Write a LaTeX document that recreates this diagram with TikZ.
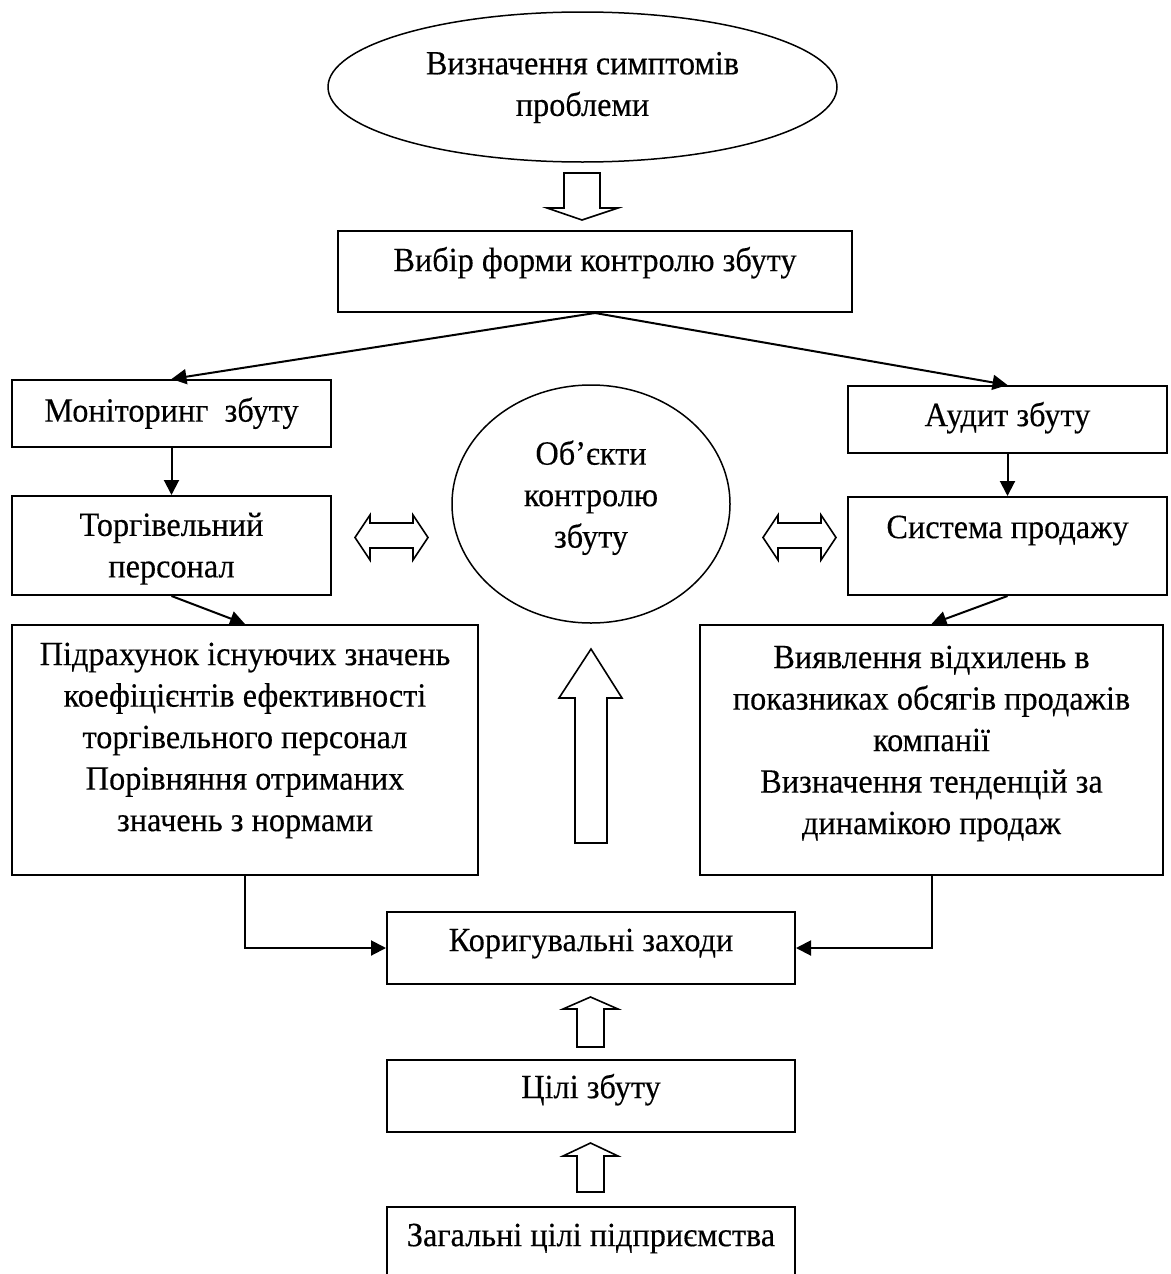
\documentclass[tikz,border=0pt]{standalone}
\usepackage{fontspec}
\setmainfont[FakeStretch=0.95,FakeBold=0.3]{Liberation Serif}
\usetikzlibrary{shapes.geometric,arrows.meta}
\newcommand\tx[2]{\raisebox{\dimexpr #1pt-0.25em\relax}[0pt][0pt]{\begin{tabular}{@{}c@{}}#2\end{tabular}}}
\tikzset{
  every node/.style={font=\fontsize{17pt}{20.75pt}\selectfont},
  box/.style={draw, line width=1pt, rectangle, inner sep=0pt},
  oval/.style={draw, line width=0.75pt, ellipse, inner sep=0pt},
  conn/.style={line width=1pt, -{Triangle[length=7.5pt,width=7.5pt]}},
  blk/.style={draw, line width=0.8pt, fill=white, line join=miter},
}
\begin{document}
\begin{tikzpicture}[x=0.5pt, y=-0.5pt]
\useasboundingbox (0,0) rectangle (1171,1274);
\clip (0,0) rectangle (1171,1274);

% nodes
\node[oval, minimum width=254.5pt, minimum height=75pt] (sympt) at (582.5,87)
  {\tx{0}{Визначення симптомів\\проблеми}};
\node[box, minimum width=257pt, minimum height=40.5pt] (vybir) at (595,271.5)
  {\tx{4.25}{Вибір форми контролю збуту}};
\node[box, minimum width=159.5pt, minimum height=33.5pt] (mon) at (171.5,413.5)
  {\tx{0}{Моніторинг\ \ збуту}};
\node[box, minimum width=159.5pt, minimum height=33.5pt] (audit) at (1007.5,419.5)
  {\tx{0.75}{Аудит збуту}};
\node[box, minimum width=159.5pt, minimum height=49.5pt] (torg) at (171.5,545.5)
  {\tx{-1.5}{Торгівельний\\персонал}};
\node[box, minimum width=159.5pt, minimum height=49pt] (sist) at (1007.5,546)
  {\tx{8}{Система продажу}};
\node[oval, minimum width=139pt, minimum height=119pt] (obj) at (591,504)
  {\tx{3}{Об’єкти\\контролю\\збуту}};
\node[box, minimum width=233pt, minimum height=125pt] (pid) at (245,750)
  {\tx{5}{Підрахунок існуючих значень\\коефіцієнтів ефективності\\торгівельного персонал\\Порівняння отриманих\\значень з нормами}};
\node[box, minimum width=231.5pt, minimum height=125pt] (viy) at (931.5,750)
  {\tx{3.5}{Виявлення відхилень в\\показниках обсягів продажів\\компанії\\Визначення тенденцій за\\динамікою продаж}};
\node[box, minimum width=204pt, minimum height=36pt] (korig) at (591,948)
  {\tx{2.5}{Коригувальні заходи}};
\node[box, minimum width=204pt, minimum height=36pt] (tsili) at (591,1096)
  {\tx{3}{Цілі збуту}};
\node[box, minimum width=204pt, minimum height=35pt] (zag) at (591,1242)
  {\tx{2}{Загальні цілі підприємства}};

% connectors
\draw[conn] (vybir.south) -- (mon.north);
\draw[conn] (vybir.south) -- (audit.north);
\draw[conn] (mon.south) -- (torg.north);
\draw[conn] (audit.south) -- (sist.north);
\draw[conn] (torg.south) -- (pid.north);
\draw[conn] (sist.south) -- (viy.north);
\draw[conn] (pid.south) |- (korig.west);
\draw[conn] (viy.south) |- (korig.east);

% block arrows
\path[blk] (564,173) -- (600,173) -- (600,208) -- (618,208) -- (582,220) -- (547,208) -- (564,208) -- cycle;
\path[blk] (355,537.5) -- (370,515) -- (370,523) -- (413,523) -- (413,515) -- (428,537.5) -- (413,560) -- (413,548) -- (370,548) -- (370,560) -- cycle;
\path[blk] (763,537.5) -- (778,515) -- (778,523) -- (821,523) -- (821,515) -- (836,537.5) -- (821,560) -- (821,548) -- (778,548) -- (778,560) -- cycle;
\path[blk] (575,843) -- (607,843) -- (607,698) -- (622,698) -- (591,649) -- (559,698) -- (575,698) -- cycle;
\path[blk] (577,1047) -- (604,1047) -- (604,1009) -- (618,1009) -- (590.5,997) -- (563,1009) -- (577,1009) -- cycle;
\path[blk] (577,1192) -- (604,1192) -- (604,1156) -- (618,1156) -- (590.5,1143) -- (563,1156) -- (577,1156) -- cycle;
\end{tikzpicture}
\end{document}
